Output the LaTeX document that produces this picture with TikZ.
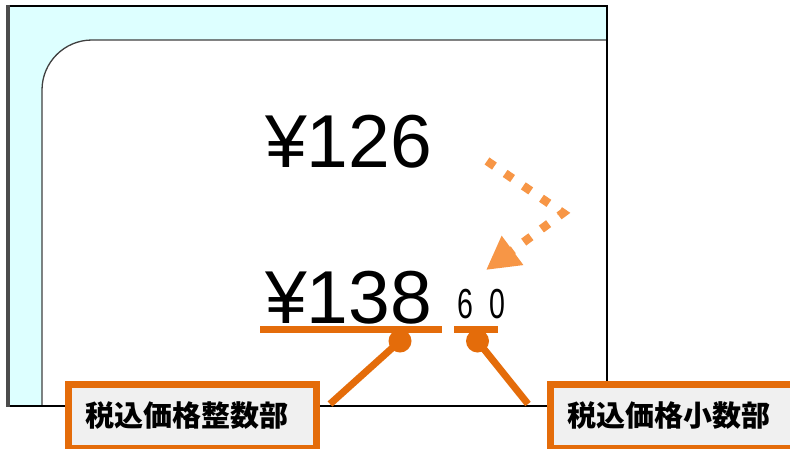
\documentclass[tikz,border=0pt]{standalone}
\usepackage{fontspec}
\setmainfont{Liberation Sans}
\newfontfamily\jpfont{Noto Sans CJK JP}
\newfontfamily\narrowfont[FakeStretch=0.68]{Liberation Sans}
\usetikzlibrary{arrows.meta}
\definecolor{paneCyan}{HTML}{DDFFFF}
\definecolor{calloutOrange}{HTML}{E46C0A}
\definecolor{hintOrange}{HTML}{F79646}
\definecolor{calloutFill}{HTML}{F0F0F0}
\begin{document}
\begin{tikzpicture}[
    x=1pt, y=-1pt,
    price/.style={
        font=\fontsize{75}{80}\selectfont,
        inner sep=0pt,
        anchor=base west
    },
    fraction/.style={
        font=\narrowfont\fontsize{42}{46}\selectfont,
        inner sep=0pt,
        anchor=base west
    },
    callout/.style={
        draw=calloutOrange,
        fill=calloutFill,
        line width=7pt,
        minimum height=64pt,
        inner xsep=17pt,
        align=left,
        anchor=north west,
        font=\jpfont\bfseries\fontsize{29}{34}\selectfont
    },
    pin/.style={
        circle,
        fill=calloutOrange,
        inner sep=0pt,
        minimum size=23pt
    },
    leader/.style={
        draw=calloutOrange,
        line width=7pt
    },
    hint/.style={
        draw=hintOrange,
        line width=8.5pt,
        dash pattern=on 9pt off 13pt,
        -{Triangle[length=33pt, width=34pt]}
    }
]
    \clip (0,0) rectangle (790,448);

    % window frame
    \fill[paneCyan] (7,6) rectangle (607,406);
    \fill[white] (42,406) -- (42,90) arc[start angle=180, end angle=270, radius=50]
        -- (607,40) -- (607,406) -- cycle;
    \draw[black!75, line width=1.3pt] (42,406) -- (42,90)
        arc[start angle=180, end angle=270, radius=50] -- (607,40);
    \draw[black, line width=1.3pt] (7,6) -- (607,6) -- (607,406) -- (7,406);
    \draw[black!70, line width=3.5pt] (8,4.8) -- (8,407);

    \node[price] (oldprice) at (265,167) {¥126};
    \node[price] (taxprice) at (265,323) {¥138};
    \node[fraction] (taxfrac) at (457,318) {6\hspace{16pt}0};

    \coordinate (hintstart) at (487,161);
    \coordinate (hintbend) at (563,213);
    \coordinate (hintend) at (486,270);
    \draw[hint] (hintstart) -- (hintbend) -- (hintend);

    \draw[leader] (260,329.5) -- (442,329.5);
    \draw[leader] (454,329.5) -- (498,329.5);
    \node[pin] (intpin) at (400,341) {};
    \node[pin] (fracpin) at (477.5,341) {};

    \node[callout, text width=214pt] (intlabel) at (64.5,380.5) {税込価格整数部};
    \node[callout, text width=224pt] (fraclabel) at (546.5,380.5) {税込価格小数部};

    \coordinate (intend) at (330,404);
    \coordinate (fracend) at (528,404);
    \draw[leader] (intpin.center) -- (intend);
    \draw[leader] (fracpin.center) -- (fracend);
\end{tikzpicture}
\end{document}
